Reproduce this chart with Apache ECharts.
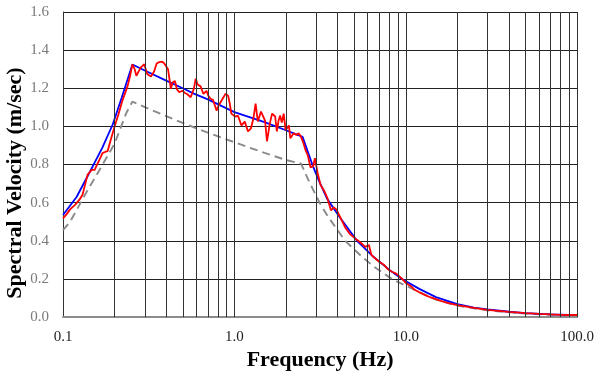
<!DOCTYPE html>
<html>
<head>
<meta charset="utf-8">
<script src="https://cdn.jsdelivr.net/npm/echarts@6/dist/echarts.min.js"></script>
<style>html,body{margin:0;padding:0;background:#fff}#c{width:597px;height:376px}</style>
</head>
<body>
<div id="c"></div>
<script>
// ---- data ----
const xTickLabels = [0.1, 1, 10, 100];
const gridFreqs = [0.2,0.3,0.4,0.5,0.6,0.7,0.8,0.9,1,2,3,4,5,6,7,8,9,10,20,30,40,50,60,70,80,90,100];

const redFreq = [0.1,0.105,0.11,0.118,0.125,0.13,0.135,0.139,0.147,0.153,0.158,0.163,0.17,0.176,0.182,0.19,0.2,0.21,0.222,0.238,0.247,0.254,0.262,0.268,0.275,0.285,0.298,0.31,0.326,0.34,0.352,0.364,0.379,0.39,0.4,0.41,0.426,0.436,0.45,0.462,0.475,0.486,0.5,0.515,0.53,0.556,0.58,0.595,0.61,0.635,0.66,0.688,0.705,0.726,0.75,0.787,0.81,0.83,0.86,0.89,0.92,0.94,0.96,1.01,1.05,1.1,1.15,1.2,1.25,1.29,1.33,1.37,1.43,1.51,1.55,1.61,1.66,1.73,1.77,1.81,1.85,1.89,1.94,1.99,2.08,2.12,2.22,2.3,2.37,2.44,2.53,2.6,2.68,2.78,2.88,2.95,3.06,3.18,3.34,3.48,3.66,3.8,3.94,4.15,4.43,4.73,5.1,5.4,5.8,6.1,6.3,6.6,7.0,7.45,7.8,8.3,8.8,9.5,10.1,10.8,11.2,12,13,14,16,18,20,25,30,40,50,60,70,80,100];
const redVel = [0.518,0.54,0.565,0.59,0.617,0.642,0.70,0.746,0.772,0.772,0.80,0.824,0.86,0.866,0.87,0.93,1.0,1.06,1.135,1.21,1.27,1.325,1.30,1.265,1.285,1.31,1.326,1.275,1.262,1.288,1.33,1.337,1.34,1.33,1.334,1.30,1.197,1.23,1.238,1.195,1.18,1.17,1.187,1.175,1.17,1.153,1.197,1.25,1.22,1.21,1.17,1.187,1.16,1.145,1.14,1.083,1.11,1.112,1.15,1.172,1.16,1.12,1.067,1.052,1.055,1.005,1.025,0.974,0.99,1.04,1.12,1.026,1.078,1.03,0.922,1.016,1.067,1.052,0.974,1.03,1.057,1.02,1.067,0.98,1.005,0.938,0.964,0.955,0.964,0.948,0.912,0.876,0.85,0.785,0.79,0.834,0.756,0.694,0.663,0.627,0.56,0.575,0.565,0.523,0.47,0.435,0.41,0.394,0.368,0.378,0.326,0.31,0.29,0.275,0.254,0.238,0.228,0.202,0.176,0.16,0.145,0.13,0.115,0.103,0.085,0.072,0.063,0.048,0.038,0.027,0.021,0.017,0.014,0.012,0.011];

const blueFreq = [0.1,0.12,0.149,0.17,0.195,0.22,0.254,0.3,0.4,0.5,0.58,0.7,1.0,1.5,2.0,2.5,2.7,2.85,3.1,3.48,4.15,5.2,6.5,8.1,9.5,12,15,20,25,30,40,50,70,100];
const blueVel = [0.535,0.63,0.79,0.89,1.01,1.15,1.325,1.293,1.24,1.2,1.172,1.142,1.075,1.022,0.98,0.945,0.86,0.8,0.72,0.62,0.52,0.40,0.315,0.245,0.2,0.148,0.105,0.068,0.05,0.04,0.028,0.021,0.014,0.01];

const grayFreq = [0.1,0.11,0.125,0.14,0.163,0.2,0.234,0.254,0.3,0.4,0.5,0.7,1.0,1.5,2.0,2.45,2.7,3.14,3.5,4.43,5.5,6.5,8.3,10,12,15,20,30,50,100];
const grayVel = [0.456,0.50,0.59,0.67,0.77,0.91,1.07,1.13,1.101,1.054,1.018,0.967,0.917,0.861,0.824,0.805,0.72,0.6,0.53,0.4,0.32,0.265,0.2,0.165,0.13,0.092,0.06,0.035,0.018,0.008];

const yTicks = {min: 0, max: 1.6, step: 0.2};

function pairs(xs, ys){ return xs.map((x,i)=>[x, ys[i]]); }

const chart = echarts.init(document.getElementById('c'), null, {renderer:'canvas'});
const serif = '"Liberation Serif", "Times New Roman", serif';
chart.setOption({
  animation: false,
  backgroundColor: '#fff',
  grid: {left: 63, right: 15, top: 12, bottom: 55, containLabel: false},
  xAxis: {
    type: 'log', logBase: 10, min: 0.1, max: 100,
    name: 'Frequency (Hz)', nameLocation: 'middle', nameGap: 27,
    nameTextStyle: {fontFamily: serif, fontWeight: 'bold', fontSize: 22, color: '#000'},
    axisLine: {show: true, lineStyle: {color: '#8c8c8c', width: 2}},
    axisTick: {show: false},
    axisLabel: {fontFamily: serif, fontSize: 15, color: '#222', margin: 12,
      formatter: v => Number(v).toFixed(1)},
    splitLine: {show: false}
  },
  yAxis: {
    type: 'value', min: yTicks.min, max: yTicks.max, interval: yTicks.step,
    axisLine: {show: true, lineStyle: {color: '#333', width: 1}},
    axisTick: {show: false},
    axisLabel: {fontFamily: serif, fontSize: 15, color: '#7a7a7a', margin: 14,
      formatter: v => Number(v).toFixed(1)},
    splitLine: {show: true, lineStyle: {color: '#222', width: 1}}
  },
  graphic: [{
    type: 'text', x: 15, y: 183, rotation: Math.PI/2,
    style: {text: 'Spectral Velocity (m/sec)', font: 'bold 22px ' + serif,
      fill: '#000', textAlign: 'center', textVerticalAlign: 'middle'}
  }],
  series: [
    {
      type: 'line', data: pairs(grayFreq, grayVel), symbol: 'none', z: 2,
      lineStyle: {color: '#8a8a8a', width: 1.9, type: [8, 5]},
      markLine: {
        silent: true, symbol: 'none', animation: false,
        label: {show: false},
        lineStyle: {color: '#333', width: 1, type: 'solid'},
        emphasis: {disabled: true},
        data: gridFreqs.map(f => ({xAxis: f}))
      }
    },
    {
      type: 'line', data: pairs(blueFreq, blueVel), symbol: 'none', z: 3,
      lineStyle: {color: '#0000ff', width: 1.8}
    },
    {
      type: 'line', data: pairs(redFreq, redVel), symbol: 'none', z: 4,
      lineStyle: {color: '#ff0000', width: 1.8}
    }
  ]
});
</script>
</body>
</html>
